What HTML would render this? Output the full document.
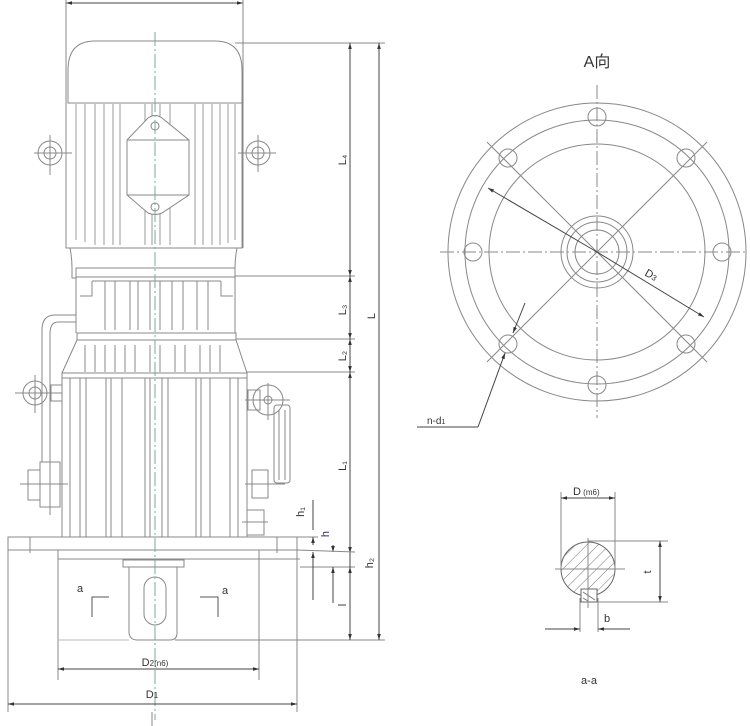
<!DOCTYPE html>
<html><head><meta charset="utf-8"><style>
html,body{margin:0;padding:0;background:#fff;width:750px;height:726px;overflow:hidden}
svg{display:block}
text{font-family:"Liberation Sans","Noto Sans CJK SC",sans-serif;fill:#333}
</style></head><body>
<svg width="750" height="726" viewBox="0 0 750 726" xmlns="http://www.w3.org/2000/svg">
<defs>
<marker id="ar" viewBox="0 0 10 10" refX="10" refY="5" markerWidth="6" markerHeight="6" orient="auto-start-reverse"><path d="M0,2 L10,5 L0,8 z" fill="#333"/></marker>
<pattern id="hatch" width="8" height="8" patternUnits="userSpaceOnUse" patternTransform="rotate(45)"><line x1="0" y1="0" x2="0" y2="8" stroke="#777" stroke-width="1"/></pattern>
</defs>
<g stroke="#888" stroke-width="1" fill="none">
<!-- top dim -->
<line x1="66" y1="3" x2="243" y2="3" stroke="#444" marker-start="url(#ar)" marker-end="url(#ar)"/>
<line x1="66" y1="0" x2="66" y2="248"/><line x1="243" y1="0" x2="243" y2="248"/>
<!-- motor cap -->
<path d="M68,103 L68,70 Q68,41 95,41 L215,41 Q242,41 242,70 L242,103 Z"/>
<line x1="68" y1="103" x2="242" y2="103"/>
<!-- motor body -->
<path d="M66,103 L66,248 L242,248 L242,103"/>
<g stroke="#999">
<path d="M76,104 V240 M85,104 V242 M95,104 V245 M104,104 V245 M113,104 V245 M120,104 V245 M145,104 V245 M152,104 V245 M160,104 V245 M170,104 V245 M195,104 V245 M203,104 V245 M212,104 V245 M220,104 V245 M228,104 V243 M235,104 V240"/>
</g>
<!-- terminal box -->
<path d="M127,140 L148,118 Q155,113 162,118 L189,140 L189,195 L162,213 Q155,216 148,213 L127,195 Z" fill="#fff"/>
<line x1="127" y1="140" x2="189" y2="140"/><line x1="127" y1="195" x2="189" y2="195"/>
<circle cx="155" cy="126" r="4"/><circle cx="155" cy="207" r="4"/>
<!-- lifting eyes -->
<circle cx="50" cy="153" r="12"/><circle cx="50" cy="153" r="6"/>
<line x1="34" y1="153" x2="72" y2="153"/><line x1="50" y1="135" x2="50" y2="175"/>
<circle cx="258" cy="153" r="12"/><circle cx="258" cy="153" r="6"/>
<line x1="238" y1="153" x2="276" y2="153"/><line x1="258" y1="135" x2="258" y2="172"/>
<!-- neck -->
<path d="M70,248 Q72,258 72,268 L72,278 L76,278 L76,333 M237,248 Q235,258 235,268 L235,333"/>
<rect x="76" y="268" width="159" height="9"/>
<line x1="235" y1="276" x2="355" y2="276"/>
<path d="M92,281 H221 M92,281 V296 H80 M221,281 V296 H233"/>
<path d="M105,281 V330 M115,281 V330 M130,281 V330 M138,281 V330 M150,281 V330 M160,281 V330 M172,281 V330 M183,281 V330 M197,281 V330 M208,281 V330"/>
<rect x="77" y="333" width="159" height="7"/>
<line x1="236" y1="339" x2="355" y2="339"/>
<path d="M77,340 L62,373 M236,340 L247,373"/>
<path d="M85,345 V372 M95,345 V372 M105,345 V372 M115,345 V372 M125,345 V372 M135,345 V372 M150,345 V372 M160,345 V372 M175,345 V372 M185,345 V372 M200,345 V372 M210,345 V372 M220,345 V372"/>
<!-- lower body -->
<rect x="62" y="373" width="185" height="164"/>
<line x1="62" y1="378" x2="247" y2="378"/>
<line x1="247" y1="372" x2="355" y2="372"/>
<path d="M70,378 V537 M80,378 V537 M86,378 V537 M106,378 V537 M111,378 V537 M122,378 V537 M145,378 V537 M150,378 V537 M162,378 V537 M168,378 V537 M196,378 V537 M201,378 V537 M210,378 V537 M230,378 V537 M238,378 V537"/>
<!-- left pipe -->
<path d="M76,315 H55 Q42,315 42,330 V462 M76,322 H58 Q50,322 50,334 V462"/>
<circle cx="35" cy="393" r="12"/><circle cx="35" cy="393" r="6"/>
<line x1="15" y1="393" x2="62" y2="393"/><line x1="35" y1="375" x2="35" y2="413"/>
<rect x="51" y="385" width="11" height="16"/>
<rect x="40" y="462" width="20" height="45"/><rect x="28" y="470" width="12" height="30"/>
<line x1="20" y1="484" x2="68" y2="484"/><line x1="50" y1="455" x2="50" y2="515"/>
<!-- right gauge -->
<circle cx="268" cy="400" r="15"/><circle cx="268" cy="400" r="4"/>
<rect x="248" y="390" width="12" height="20"/>
<line x1="245" y1="400" x2="290" y2="400"/><line x1="268" y1="383" x2="268" y2="420"/>
<rect x="274" y="405" width="16" height="78" rx="3"/><line x1="279" y1="410" x2="279" y2="480"/><line x1="285" y1="410" x2="285" y2="480"/>
<rect x="252" y="470" width="16" height="28"/><line x1="245" y1="484" x2="285" y2="484"/>
<rect x="247" y="510" width="17" height="25"/><line x1="242" y1="522" x2="268" y2="522"/>
<!-- flange -->
<rect x="8" y="537" width="289" height="13"/>
<line x1="30" y1="537" x2="30" y2="553"/><line x1="277" y1="537" x2="277" y2="553"/>
<line x1="297" y1="537" x2="318" y2="537"/>
<path d="M58,550 V680 M259,550 V680"/>
<line x1="58" y1="559" x2="300" y2="559"/>
<line x1="297" y1="550" x2="297" y2="712"/><line x1="8" y1="550" x2="8" y2="712"/>
<!-- shaft -->
<rect x="123" y="560" width="61" height="7"/>
<path d="M129,567 V633 Q130,640 137,640 H170 Q177,640 177,633 V567"/>
<line x1="300" y1="567" x2="355" y2="567"/>
<rect x="144" y="577" width="22" height="48" rx="11"/>
<line x1="175" y1="640" x2="385" y2="640"/>
<line x1="58" y1="640" x2="129" y2="640" stroke="#bbb"/>
<!-- a markers -->
<path d="M92,617 V597 H109 M200,597 H218 V617" stroke="#555"/>
<!-- centerline -->
<line x1="155" y1="32" x2="155" y2="720" stroke-dasharray="14,3,2,3" stroke="#7a9"/>
<line x1="152" y1="712" x2="152" y2="726"/>
<!-- vertical dims -->
<line x1="235" y1="43" x2="385" y2="43"/>
<g stroke="#444">
<line x1="350" y1="43" x2="350" y2="276" marker-start="url(#ar)" marker-end="url(#ar)"/>
<line x1="350" y1="276" x2="350" y2="339" marker-start="url(#ar)" marker-end="url(#ar)"/>
<line x1="350" y1="339" x2="350" y2="372" marker-start="url(#ar)" marker-end="url(#ar)"/>
<line x1="350" y1="372" x2="350" y2="553" marker-start="url(#ar)" marker-end="url(#ar)"/>
<line x1="350" y1="553" x2="350" y2="567" />
<line x1="350" y1="567" x2="350" y2="640" marker-start="url(#ar)" marker-end="url(#ar)"/>
<line x1="379" y1="43" x2="379" y2="640" marker-start="url(#ar)" marker-end="url(#ar)"/>
<line x1="313" y1="545" x2="313" y2="537" marker-end="url(#ar)"/>
<line x1="313" y1="600" x2="313" y2="552" marker-end="url(#ar)"/>
<line x1="333" y1="545" x2="333" y2="552" marker-end="url(#ar)"/>
<line x1="333" y1="603" x2="333" y2="567" marker-end="url(#ar)"/>
<line x1="313" y1="500" x2="313" y2="530"/>
<line x1="58" y1="669" x2="259" y2="669" marker-start="url(#ar)" marker-end="url(#ar)"/>
<line x1="8" y1="704" x2="297" y2="704" marker-start="url(#ar)" marker-end="url(#ar)"/>
</g>
<line x1="297" y1="550" x2="355" y2="552"/>

<!-- RIGHT VIEW -->
<circle cx="597" cy="252" r="149"/>
<circle cx="597" cy="252" r="132"/>
<circle cx="597" cy="252" r="108"/>
<circle cx="597" cy="252" r="36"/>
<circle cx="597" cy="252" r="30"/>
<circle cx="597" cy="252" r="22"/>
<line x1="440" y1="252" x2="748" y2="252" stroke-dasharray="14,3,2,3"/>
<line x1="597" y1="85" x2="597" y2="418" stroke-dasharray="14,3,2,3"/>
<line x1="487" y1="142" x2="707" y2="362"/>
<line x1="707" y1="142" x2="487" y2="362"/>
<circle cx="597" cy="117" r="9"/><circle cx="597" cy="385" r="9"/>
<circle cx="473" cy="252" r="9"/><circle cx="722" cy="252" r="9"/>
<circle cx="508" cy="158" r="9"/><circle cx="686" cy="158" r="9"/>
<circle cx="508" cy="344" r="9"/><circle cx="686" cy="344" r="9"/>
<g stroke="#444">
<line x1="597" y1="252" x2="488" y2="188" marker-end="url(#ar)"/>
<line x1="597" y1="252" x2="704" y2="317" marker-end="url(#ar)"/>
<line x1="525" y1="303" x2="513" y2="333" marker-end="url(#ar)"/>
<line x1="478" y1="427" x2="505" y2="353" marker-end="url(#ar)"/>
<line x1="478" y1="427" x2="417" y2="427"/>
</g>

<!-- SECTION a-a -->
<circle cx="588" cy="569" r="27" fill="url(#hatch)" stroke="#666"/>
<rect x="581" y="589" width="16" height="13" fill="#fff" stroke="#666"/>
<path d="M583,592 L595,600 M583,598 L588,601" stroke="#777"/>
<line x1="561" y1="492" x2="561" y2="569"/><line x1="615" y1="492" x2="615" y2="569"/>
<line x1="588" y1="541" x2="668" y2="541"/><line x1="597" y1="602" x2="668" y2="602"/>
<line x1="555" y1="569" x2="625" y2="569"/><line x1="588" y1="538" x2="588" y2="608"/>
<line x1="580" y1="598" x2="580" y2="632"/><line x1="598" y1="598" x2="598" y2="632"/>
<g stroke="#444">
<line x1="561" y1="498" x2="615" y2="498" marker-start="url(#ar)" marker-end="url(#ar)"/>
<line x1="660" y1="541" x2="660" y2="602" marker-start="url(#ar)" marker-end="url(#ar)"/>
<line x1="545" y1="629" x2="580" y2="629" marker-end="url(#ar)"/>
<line x1="630" y1="629" x2="598" y2="629" marker-end="url(#ar)"/>
</g>
</g>
<!-- labels -->
<g font-size="11">
<text transform="translate(346,160) rotate(-90)" text-anchor="middle">L₄</text>
<text transform="translate(346,310) rotate(-90)" text-anchor="middle">L₃</text>
<text transform="translate(346,356) rotate(-90)" text-anchor="middle">L₂</text>
<text transform="translate(346,466) rotate(-90)" text-anchor="middle">L₁</text>
<text transform="translate(375,316) rotate(-90)" text-anchor="middle">L</text>
<text transform="translate(304,512) rotate(-90)" text-anchor="middle">h₁</text>
<text transform="translate(329,534) rotate(-90)" text-anchor="middle" style="fill:#336">h</text>
<text transform="translate(373,563) rotate(-90)" text-anchor="middle">h₂</text>
<text transform="translate(346,605) rotate(-90)" text-anchor="middle">l</text>
<text x="77" y="592">a</text><text x="222" y="594">a</text>
<text x="155" y="666" text-anchor="middle">D<tspan font-size="8">2(n6)</tspan></text>
<text x="152" y="698" text-anchor="middle">D<tspan font-size="8">1</tspan></text>
<text x="597" y="67" text-anchor="middle" font-size="16">A向</text>
<text transform="translate(644,275) rotate(30)">D<tspan font-size="8">3</tspan></text>
<text x="427" y="424" font-size="10">n-d<tspan font-size="7">1</tspan></text>
<text x="573" y="495">D<tspan font-size="8"> (m6)</tspan></text>
<text transform="translate(651,572) rotate(-90)" text-anchor="middle">t</text>
<text x="604" y="622">b</text>
<text x="589" y="684" text-anchor="middle">a-a</text>
</g>
</svg>
</body></html>
